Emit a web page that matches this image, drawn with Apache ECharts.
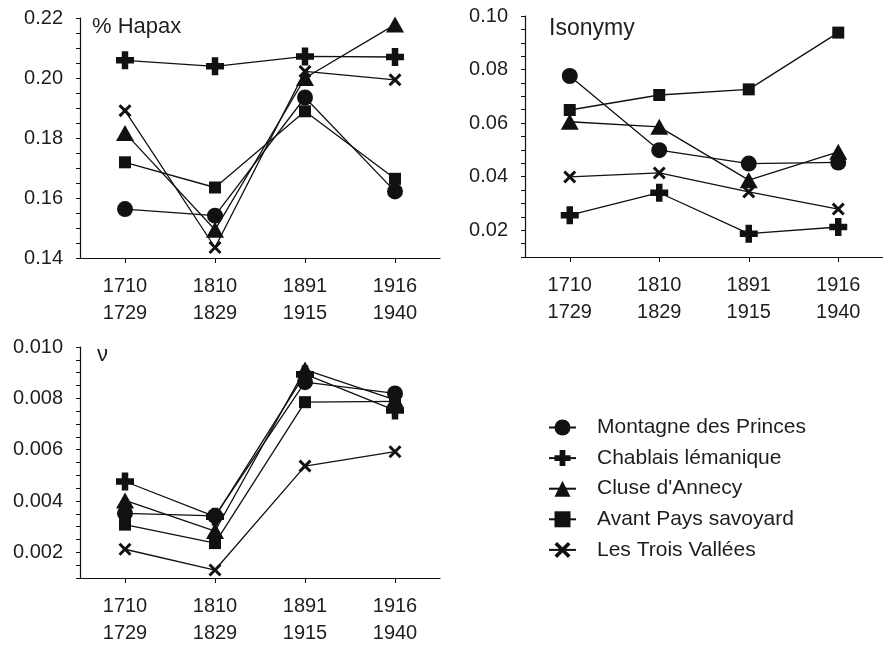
<!DOCTYPE html>
<html>
<head>
<meta charset="utf-8">
<script src="https://cdn.jsdelivr.net/npm/echarts@6/dist/echarts.min.js"></script>
<style>
html,body{margin:0;padding:0;background:#fff;}
#main{width:883px;height:647px;}
</style>
</head>
<body>
<div id="main"></div>
<script>
// ---- data ----
const categories = ['1710\n1729', '1810\n1829', '1891\n1915', '1916\n1940'];
const seriesNames = ['Montagne des Princes', 'Chablais lémanique', "Cluse d'Annecy", 'Avant Pays savoyard', 'Les Trois Vallées'];

// % Hapax
const hapaxMontagne = [0.1563, 0.1541, 0.1935, 0.1622];
const hapaxChablais = [0.2059, 0.2039, 0.2072, 0.2070];
const hapaxCluse    = [0.1817, 0.1494, 0.2000, 0.2178];
const hapaxAvant    = [0.1719, 0.1635, 0.1889, 0.1664];
const hapaxTrois    = [0.1891, 0.1435, 0.2022, 0.1994];

// Isonymy
const isoMontagne = [0.0776, 0.0499, 0.0449, 0.0453];
const isoChablais = [0.0256, 0.0340, 0.0187, 0.0212];
const isoCluse    = [0.0605, 0.0586, 0.0387, 0.0493];
const isoAvant    = [0.0649, 0.0705, 0.0726, 0.0938];
const isoTrois    = [0.0399, 0.0414, 0.0343, 0.0279];

// nu
const nuMontagne = [0.00352, 0.00342, 0.00863, 0.00819];
const nuChablais = [0.00476, 0.00339, 0.00894, 0.00753];
const nuCluse    = [0.00402, 0.00283, 0.00912, 0.00794];
const nuAvant    = [0.00308, 0.00236, 0.00785, 0.00788];
const nuTrois    = [0.00212, 0.00131, 0.00536, 0.00592];

// y-axis tick labels
const hapaxTicks = ['0.14', '0.16', '0.18', '0.20', '0.22'];
const isoTicks = ['0.02', '0.04', '0.06', '0.08', '0.10'];
const nuTicks = ['0.002', '0.004', '0.006', '0.008', '0.010'];

// ---- styling ----
const FONT = 'Liberation Sans';
const INK = '#111';
const TXT = '#1e1e1e';
const plusPath = 'path://M3.2,0 H6.8 V3.2 H10 V6.8 H6.8 V10 H3.2 V6.8 H0 V3.2 H3.2 Z';
const crossPath = 'path://M0,1.6 L1.6,0 L5,3.4 L8.4,0 L10,1.6 L6.6,5 L10,8.4 L8.4,10 L5,6.6 L1.6,10 L0,8.4 L3.4,5 Z';
const symbols = [
  {symbol: 'circle', size: 16},
  {symbol: plusPath, size: 18},
  {symbol: 'triangle', size: [18, 16]},
  {symbol: 'rect', size: 12},
  {symbol: crossPath, size: 13}
];

const chart = echarts.init(document.getElementById('main'), null, {renderer: 'canvas'});

function makeYAxis(gridIndex, min, max, step, ticks) {
  return {
    type: 'value', gridIndex, min, max, interval: step,
    splitLine: {show: false},
    axisLine: {show: true, lineStyle: {color: INK, width: 1.2}},
    axisTick: {show: true, inside: false, length: 4, lineStyle: {color: INK, width: 1}},
    axisLabel: {
      margin: 17, color: TXT, fontFamily: FONT, fontSize: 20,
      formatter: function (v) {
        for (const t of ticks) { if (Math.abs(parseFloat(t) - v) < step / 10) return t; }
        return '';
      }
    }
  };
}
function makeXAxis(gridIndex) {
  return {
    type: 'category', gridIndex, data: categories, boundaryGap: true,
    axisLine: {show: true, lineStyle: {color: INK, width: 1.2}},
    axisTick: {show: true, alignWithLabel: true, length: 5, lineStyle: {color: INK, width: 1}},
    axisLabel: {margin: 15, color: TXT, fontFamily: FONT, fontSize: 20, lineHeight: 27, interval: 0},
    splitLine: {show: false}
  };
}

const dataSets = [
  [hapaxMontagne, hapaxChablais, hapaxCluse, hapaxAvant, hapaxTrois],
  [isoMontagne, isoChablais, isoCluse, isoAvant, isoTrois],
  [nuMontagne, nuChablais, nuCluse, nuAvant, nuTrois]
];

const series = [];
dataSets.forEach((set, g) => {
  set.forEach((vals, i) => {
    series.push({
      type: 'line', name: seriesNames[i], xAxisIndex: g, yAxisIndex: g,
      data: vals,
      symbol: symbols[i].symbol, symbolSize: symbols[i].size,
      showAllSymbol: true,
      lineStyle: {color: INK, width: 1.3},
      itemStyle: {color: INK, borderWidth: 0},
      emphasis: {disabled: true},
      animation: false
    });
  });
});

chart.setOption({
  backgroundColor: '#fff',
  animation: false,
  textStyle: {fontFamily: FONT},
  grid: [
    {left: 80, top: 18, width: 360, height: 240},
    {left: 525, top: 16, width: 360, height: 241},
    {left: 80, top: 347, width: 360, height: 240}
  ],
  title: [
    {text: '% Hapax', left: 87, top: 11, textStyle: {fontFamily: FONT, fontSize: 22, fontWeight: 'normal', color: TXT}},
    {text: 'Isonymy', left: 544, top: 12, textStyle: {fontFamily: FONT, fontSize: 23, fontWeight: 'normal', color: TXT}},
    {text: 'ν', left: 92, top: 339, textStyle: {fontFamily: FONT, fontSize: 22, fontWeight: 'normal', color: TXT}}
  ],
  xAxis: [makeXAxis(0), makeXAxis(1), makeXAxis(2)],
  yAxis: [
    makeYAxis(0, 0.14, 0.22, 0.005, hapaxTicks),
    makeYAxis(1, 0.01, 0.10, 0.005, isoTicks),
    makeYAxis(2, 0.001, 0.010, 0.0005, nuTicks)
  ],
  legend: {
    orient: 'vertical', left: 543, top: 412,
    data: seriesNames, selectedMode: false,
    itemWidth: 27, itemHeight: 20, itemGap: 9.6,
    textStyle: {fontFamily: FONT, fontSize: 21, lineHeight: 21, color: TXT, padding: [0, 0, 0, 16]}
  },
  series
});
</script>
</body>
</html>
